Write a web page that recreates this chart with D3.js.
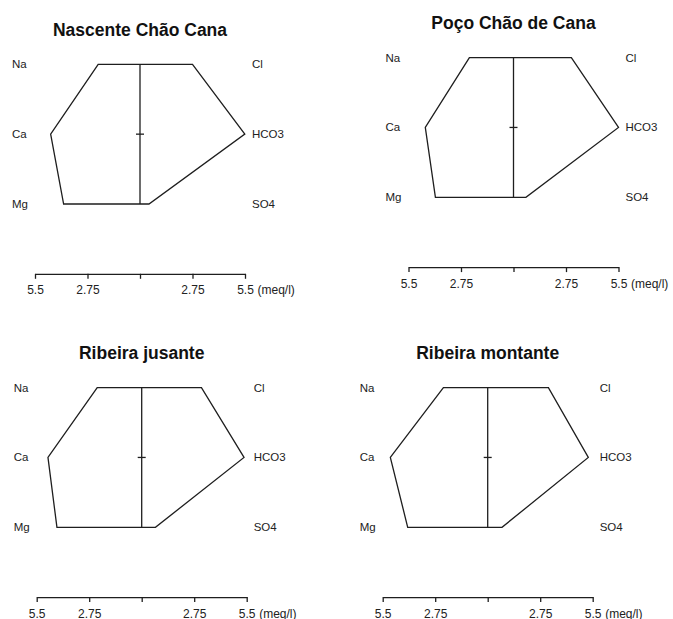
<!DOCTYPE html>
<html>
<head>
<meta charset="utf-8">
<script src="https://cdn.jsdelivr.net/npm/d3@7"></script>
<style>
  html, body { margin: 0; padding: 0; background: #fff; }
  svg { display: block; font-family: "Liberation Sans", Arial, sans-serif; }
</style>
</head>
<body>
<svg id="chart" width="673" height="619"></svg>
<script>
// ---- data ----
const samples = ["Nascente Chão Cana", "Poço Chão de Cana", "Ribeira jusante", "Ribeira montante"];
const cations = ["Na", "Ca", "Mg"];
const anions = ["Cl", "HCO3", "SO4"];
const Na   = [2.19, 2.31, 2.33, 2.32];
const Ca   = [4.68, 4.62, 4.91, 5.10];
const Mg   = [4.00, 4.09, 4.44, 4.19];
const Cl   = [2.75, 3.03, 3.13, 3.18];
const HCO3 = [5.49, 5.50, 5.36, 5.27];
const SO4  = [0.47, 0.65, 0.72, 0.75];
const tickValues = [-5.5, -2.75, 0, 2.75, 5.5];
const tickLabels = ["5.5", "2.75", "", "2.75", "5.5"];
const unitLabel = "(meq/l)";

// ---- layout (panel axis-left x, title baseline y) ----
const layout = [[35, 36], [408.5, 29.3], [36.7, 359.3], [382.7, 359.3]];
const panelW = 210;
const rowOffsets = [28.3, 98.3, 168];
const axisOffset = 237.8;
const ink = "#1e1e1e";

const svg = d3.select("#chart");

samples.forEach((name, i) => {
  const [x0, ty] = layout[i];
  const x = d3.scaleLinear().domain([-5.5, 5.5]).range([x0, x0 + panelW]);
  const y = d3.scalePoint().domain([0, 1, 2]).range([ty + rowOffsets[0], ty + rowOffsets[2]]);
  const g = svg.append("g");

  // title
  g.append("text")
    .attr("x", x(0)).attr("y", ty)
    .attr("text-anchor", "middle")
    .attr("font-size", "17.5px").attr("font-weight", "bold")
    .attr("fill", "#111")
    .text(name);

  const cat = [Na[i], Ca[i], Mg[i]];
  const an = [Cl[i], HCO3[i], SO4[i]];

  // polygon: cations on the left (top to bottom), anions on the right (bottom to top)
  const pts = [];
  cat.forEach((v, k) => pts.push([x(-v), y(k)]));
  [2, 1, 0].forEach(k => pts.push([x(an[k]), y(k)]));
  g.append("path")
    .attr("d", d3.line()(pts) + "Z")
    .attr("fill", "none").attr("stroke", ink).attr("stroke-width", 1.3)
    .attr("stroke-linejoin", "miter");

  // centre line and centre tick
  g.append("line")
    .attr("x1", x(0)).attr("x2", x(0))
    .attr("y1", y(0)).attr("y2", y(2))
    .attr("stroke", ink).attr("stroke-width", 1.3);
  g.append("line")
    .attr("x1", x(0) - 4).attr("x2", x(0) + 4)
    .attr("y1", y(1)).attr("y2", y(1))
    .attr("stroke", ink).attr("stroke-width", 1.3);

  // ion labels
  cations.forEach((c, k) => {
    g.append("text").attr("x", x0 - 23).attr("y", y(k) + 4)
      .attr("font-size", "11.5px").attr("fill", "#222").text(c);
  });
  anions.forEach((a, k) => {
    g.append("text").attr("x", x0 + panelW + 7).attr("y", y(k) + 4)
      .attr("font-size", "11.5px").attr("fill", "#222").text(a);
  });

  // scale axis
  const axisY = ty + axisOffset;
  const ax = g.append("g")
    .attr("transform", `translate(0,${axisY})`)
    .call(d3.axisBottom(x)
      .tickValues(tickValues)
      .tickSize(5)
      .tickSizeOuter(0)
      .tickPadding(7)
      .tickFormat((d, j) => tickLabels[j]));
  ax.select(".domain").attr("stroke", ink).attr("stroke-width", 1.3);
  ax.selectAll(".tick line").attr("stroke", ink).attr("stroke-width", 1.3);
  ax.selectAll(".tick text")
    .attr("font-size", "12px")
    .attr("font-family", "\"Liberation Sans\", Arial, sans-serif")
    .attr("fill", "#222");
  g.append("text")
    .attr("x", x(5.5) + 12.5).attr("y", axisY + 20.5)
    .attr("font-size", "12px").attr("fill", "#222")
    .text(unitLabel);
});
</script>
</body>
</html>
